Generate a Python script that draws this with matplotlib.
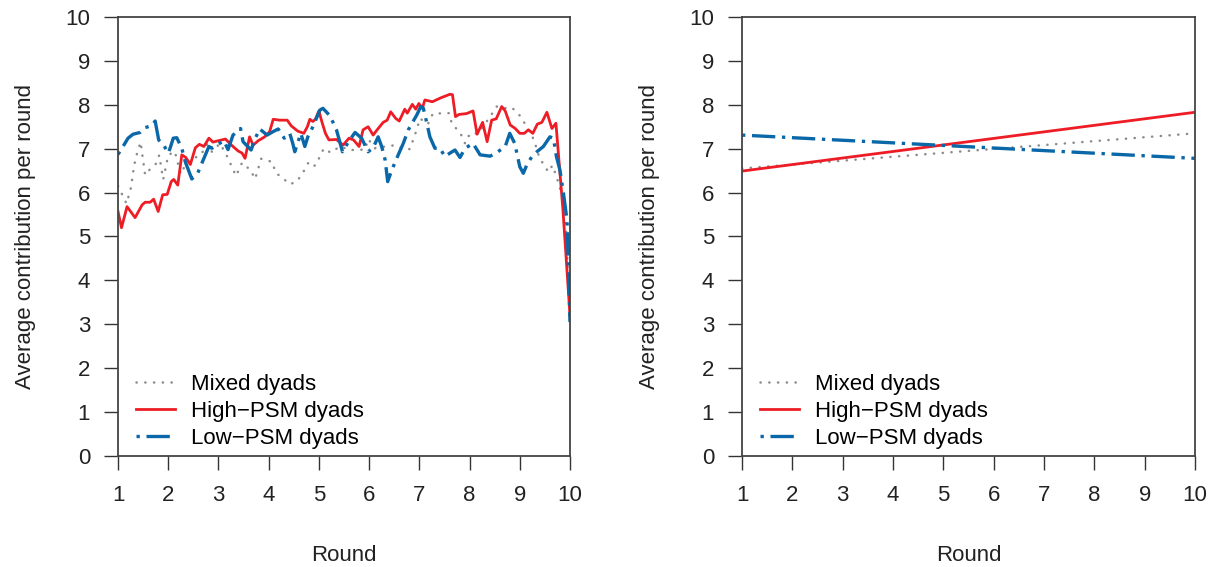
import numpy as np
import matplotlib
matplotlib.use("Agg")
from matplotlib import pyplot as plt

plt.rcParams['font.family'] = ['Liberation Sans', 'DejaVu Sans']

# left panel: averages over the course of the rounds
mixed_x = [1.00, 1.17, 1.26, 1.32, 1.38, 1.45, 1.54, 1.60, 1.75, 1.82, 1.90, 2.00, 2.13, 2.25, 2.37,
           2.65, 2.77, 2.87, 3.03, 3.15, 3.35, 3.47, 3.64, 3.73, 3.85, 4.07, 4.14, 4.27, 4.42, 4.56,
           4.68, 4.79, 4.88, 4.96, 5.04, 5.11, 5.23, 5.42, 5.62, 5.92, 5.98, 6.12, 6.32, 6.52, 6.65,
           6.81, 6.87, 6.95, 7.01, 7.17, 7.27, 7.59, 7.65, 7.81, 7.91, 8.01, 8.17, 8.41, 8.54, 8.67,
           8.84, 8.99, 9.12, 9.24, 9.32, 9.39, 9.49, 9.57, 9.65, 9.73, 9.80, 9.85, 9.92, 10.00]
mixed_y = [6.15, 5.75, 6.12, 6.61, 6.90, 7.15, 6.40, 6.49, 6.65, 6.85, 6.30, 6.85, 6.94, 6.42, 6.70,
           6.86, 7.10, 6.93, 7.12, 6.88, 6.38, 6.68, 6.51, 6.31, 6.77, 6.70, 6.45, 6.34, 6.19, 6.25,
           6.45, 6.68, 6.59, 6.65, 6.90, 7.01, 6.91, 7.05, 6.97, 6.98, 7.22, 7.01, 7.05, 7.08, 7.02,
           6.99, 7.18, 7.44, 7.69, 7.56, 7.80, 7.81, 7.56, 7.37, 7.12, 7.35, 7.35, 7.73, 7.96, 7.92,
           7.94, 7.77, 7.54, 7.31, 7.06, 6.80, 6.61, 6.47, 6.62, 6.37, 6.10, 5.87, 5.20, 3.10]

high_x = [1.00, 1.07, 1.18, 1.34, 1.48, 1.54, 1.64, 1.71, 1.80, 1.89, 1.98, 2.06, 2.11, 2.19, 2.27,
          2.35, 2.44, 2.54, 2.62, 2.71, 2.81, 2.89, 2.99, 3.14, 3.26, 3.39, 3.47, 3.53, 3.62, 3.69,
          3.79, 3.92, 4.02, 4.09, 4.22, 4.37, 4.45, 4.58, 4.70, 4.77, 4.82, 4.88, 4.93, 5.00, 5.05,
          5.13, 5.20, 5.35, 5.48, 5.60, 5.69, 5.80, 5.88, 5.98, 6.08, 6.16, 6.28, 6.36, 6.43, 6.53,
          6.60, 6.71, 6.76, 6.86, 6.93, 6.99, 7.06, 7.11, 7.26, 7.43, 7.61, 7.66, 7.72, 7.79, 7.94,
          8.07, 8.15, 8.26, 8.35, 8.44, 8.53, 8.57, 8.64, 8.71, 8.81, 8.91, 9.00, 9.09, 9.17, 9.26,
          9.35, 9.44, 9.54, 9.64, 9.72, 9.86, 10.00]
high_y = [5.57, 5.20, 5.68, 5.43, 5.72, 5.78, 5.78, 5.85, 5.57, 5.95, 5.96, 6.25, 6.30, 6.17, 6.86,
          6.80, 6.64, 7.02, 7.10, 7.05, 7.24, 7.15, 7.18, 7.22, 7.08, 6.95, 6.90, 6.78, 7.27, 7.08,
          7.18, 7.27, 7.39, 7.67, 7.65, 7.65, 7.52, 7.40, 7.35, 7.50, 7.67, 7.62, 7.67, 7.86, 7.65,
          7.35, 7.20, 7.21, 7.08, 7.24, 7.20, 7.05, 7.43, 7.50, 7.31, 7.43, 7.60, 7.65, 7.84, 7.69,
          7.63, 7.90, 7.81, 8.01, 7.90, 8.03, 7.92, 8.11, 8.07, 8.16, 8.24, 8.23, 7.73, 7.78, 7.80,
          7.86, 7.33, 7.60, 7.16, 7.65, 7.68, 7.78, 7.96, 7.86, 7.54, 7.46, 7.35, 7.35, 7.43, 7.35,
          7.56, 7.60, 7.83, 7.46, 7.58, 5.60, 3.20]

low_x = [1.00, 1.10, 1.20, 1.30, 1.44, 1.54, 1.66, 1.74, 1.81, 1.91, 2.00, 2.04, 2.10, 2.17, 2.27,
         2.34, 2.47, 2.59, 2.67, 2.81, 2.87, 2.99, 3.11, 3.19, 3.29, 3.44, 3.49, 3.65, 3.72, 3.82,
         3.97, 4.09, 4.19, 4.31, 4.42, 4.48, 4.52, 4.64, 4.72, 4.78, 4.88, 5.02, 5.08, 5.22, 5.35,
         5.47, 5.59, 5.72, 5.85, 5.98, 6.08, 6.18, 6.25, 6.32, 6.37, 6.45, 6.58, 6.68, 6.78, 6.95,
         7.03, 7.08, 7.15, 7.21, 7.31, 7.41, 7.51, 7.61, 7.71, 7.81, 7.91, 8.07, 8.21, 8.41, 8.54,
         8.71, 8.80, 8.90, 9.00, 9.07, 9.14, 9.24, 9.34, 9.47, 9.60, 9.67, 9.73, 9.80, 9.87, 9.94,
         10.00]
low_y = [6.87, 7.05, 7.24, 7.33, 7.37, 7.48, 7.52, 7.63, 7.20, 7.08, 6.90, 7.02, 7.24, 7.25, 7.01,
         6.70, 6.31, 6.45, 6.67, 7.05, 7.01, 7.10, 7.18, 6.98, 7.31, 7.46, 7.16, 6.97, 7.20, 7.45,
         7.31, 7.39, 7.45, 7.24, 7.35, 7.12, 6.93, 7.35, 7.05, 7.27, 7.50, 7.88, 7.92, 7.75, 7.43,
         6.93, 7.16, 7.37, 7.24, 6.93, 7.02, 7.27, 7.05, 6.74, 6.25, 6.51, 6.86, 7.12, 7.43, 7.77,
         7.96, 7.92, 7.58, 7.27, 7.01, 7.01, 6.82, 6.90, 6.97, 6.80, 7.01, 7.12, 6.86, 6.83, 6.91,
         7.05, 7.35, 7.12, 6.59, 6.44, 6.63, 6.82, 6.93, 7.05, 7.27, 7.24, 6.82, 6.51, 5.98, 5.38,
         3.05]

# right panel: fitted linear trends (value at round 1 and round 10)
trend_x = [1, 10]
mixed_trend = [6.55, 7.35]
high_trend = [6.49, 7.83]
low_trend = [7.31, 6.78]

labels = ['Mixed dyads', 'High\u2212PSM dyads', 'Low\u2212PSM dyads']
gray = '#8c8c8c'
red = '#ee1c25'
blue = '#0a68a8'

fig = plt.figure(figsize=(12.14, 5.67), dpi=100)
ax1 = fig.add_axes([118/1214, 1-456/567, 452/1214, 439/567])
ax2 = fig.add_axes([742/1214, 1-456/567, 453/1214, 439/567])

def style(ax, xs, ms, hs, ls):
    ax.plot(xs[0], ms, color=gray, lw=1.8, linestyle=(0, (0.1, 3.4)), dash_capstyle='round', label=labels[0])
    ax.plot(xs[1], hs, color=red, lw=2.0, label=labels[1])
    ax.plot(xs[2], ls, color=blue, lw=2.4, linestyle=(0, (1, 2, 7, 2)), label=labels[2])
    ax.set_xlim(1, 10)
    ax.set_ylim(0, 10)
    ax.set_xticks(range(1, 11))
    ax.set_yticks(range(0, 11))
    ax.tick_params(direction='out', length=10, width=1, color='#333333', labelsize=16, labelcolor='#222222')
    ax.tick_params(axis='y', pad=10)
    ax.tick_params(axis='x', pad=11)
    for s in ax.spines.values():
        s.set_color('#444444')
        s.set_linewidth(1.3)
    ax.set_ylabel('Average contribution per round', fontsize=16, color='#222222', labelpad=21)
    ax.set_xlabel('Round', fontsize=16, color='#222222', labelpad=28)
    ax.legend(loc='upper left', bbox_to_anchor=(0.039, 0.187), frameon=False, fontsize=16,
              handlelength=1.75, handletextpad=0.75, labelspacing=0.27, borderpad=0, borderaxespad=0)

style(ax1, [mixed_x, high_x, low_x], mixed_y, high_y, low_y)
style(ax2, [trend_x, trend_x, trend_x], mixed_trend, high_trend, low_trend)

plt.savefig('out.png', dpi=100)
